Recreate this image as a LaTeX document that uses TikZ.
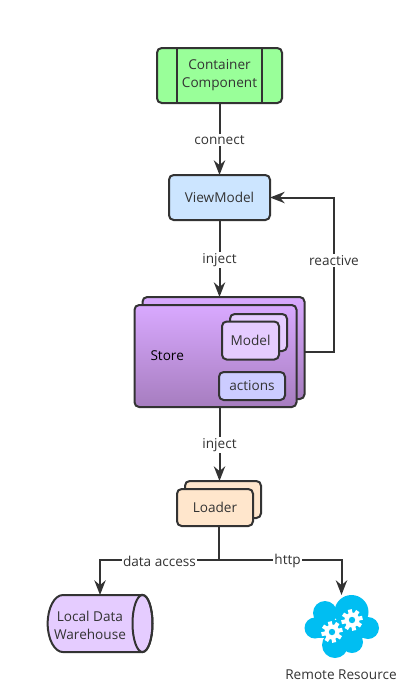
\documentclass[tikz,border=0pt]{standalone}
\usepackage{fontspec}
\setmainfont{Open Sans}
\usepackage{tikz}
\usetikzlibrary{arrows.meta,calc,positioning}
\definecolor{lineclr}{HTML}{333333}
\definecolor{containerclr}{HTML}{99FF99}
\definecolor{viewclr}{HTML}{CCE5FF}
\definecolor{lilacclr}{HTML}{E5CCFF}
\definecolor{actionclr}{HTML}{CCCCFF}
\definecolor{loaderclr}{HTML}{FFE6CC}
\definecolor{storetop}{HTML}{D9A9FF}
\definecolor{storebot}{HTML}{A67DBF}
\definecolor{cloudclr}{HTML}{00BEF2}
\tikzset{
  box/.style={draw=lineclr,line width=1.5pt,rounded corners=3.5pt,inner sep=0pt,outer sep=0pt,
    align=center,text=lineclr,font=\fontsize{10.2}{13.5}\selectfont},
  storebox/.style={box,top color=storetop,bottom color=storebot,
    minimum width=121.5pt,minimum height=76.5pt},
  conn/.style={draw=lineclr,line width=1.5pt,-{Stealth[length=11pt,width=8.5pt]}},
  wire/.style={draw=lineclr,line width=1.5pt},
  tag/.style={fill=white,inner sep=1pt,yshift=-1pt,text=lineclr,font=\fontsize{10.2}{13.5}\selectfont},
  caption/.style={tag,fill=none,inner sep=0pt,yshift=0pt,align=center},
}
\newcommand{\cog}[2]{%
  \fill[white] (#1,#2) circle[radius=5.6pt];
  \foreach \ang in {0,45,...,315}
    \fill[white,rotate around={\ang+12:(#1,#2)}] ($(#1,#2)+(-1.5pt,0)$) rectangle ++(3pt,8pt);
  \fill[cloudclr] (#1,#2) circle[radius=2.4pt];
}
\begin{document}
\begin{tikzpicture}[x=0.75pt,y=-0.75pt]
  \useasboundingbox (0,0) rectangle (411,690);

  % top of the chain
  \node[box,fill=containerclr,minimum width=93.75pt,minimum height=41.25pt] (container) at (219.5,75.5)
    {Container\\Component};
  \draw[wire] ([xshift=15pt]container.north west) -- ([xshift=15pt]container.south west);
  \draw[wire] ([xshift=-15pt]container.north east) -- ([xshift=-15pt]container.south east);
  \node[box,fill=viewclr,minimum width=75.75pt,minimum height=33.75pt,below=54pt of container] (viewmodel) {ViewModel};

  % store with its two inner parts
  \node[storebox,below=57.75pt of viewmodel,xshift=3pt] (storeback) {};
  \node[storebox,xshift=-6pt,yshift=-6pt,text=black,text width=97.5pt,align=left] (store) at (storeback) {Store};
  \node[box,fill=lilacclr,minimum width=42.75pt,minimum height=27.75pt] (modelback) at (258.5,332.5) {};
  \node[box,fill=lilacclr,minimum width=42.75pt,minimum height=28.5pt,xshift=-6pt,yshift=-6pt] (model) at (modelback) {Model};
  \node[box,fill=actionclr,minimum width=49.5pt,minimum height=21pt] (actions) at (252,386) {actions};

  % loader
  \node[box,fill=loaderclr,minimum width=57pt,minimum height=27.75pt] (loaderback) at (223,499.5) {};
  \node[box,fill=loaderclr,minimum width=57pt,minimum height=27.75pt,xshift=-6pt,yshift=-6pt] (loader) at (loaderback) {Loader};

  % local storage, a lying cylinder
  \draw[wire,fill=lilacclr] (142.5,595) -- (63,595) arc[start angle=90,end angle=270,x radius=11.5pt,y radius=21.4pt]
    -- (142.5,652) arc[start angle=270,end angle=450,x radius=7.5pt,y radius=21.4pt] -- cycle;
  \draw[wire] (142.5,623.5) ellipse[x radius=7.5pt,y radius=21.4pt];
  \node[caption] (local) at (90,624) {Local Data\\Warehouse};
  \coordinate (localtop) at (100,595);

  % remote side, cloud with two cogs
  \foreach \cx/\cy/\cr in {315/628/10.5,325/613/12,351.5/612/17,368/628/11,335/645/13,352/642/11}
    \fill[cloudclr] (\cx,\cy) circle[radius=\cr*0.75pt];
  \fill[cloudclr] (316,620) rectangle (368,638);
  \cog{332}{632}
  \cog{352}{620}
  \coordinate (remote) at (341.5,595);
  \node[caption] (remotetext) at (341,673) {Remote Resource};

  \draw[conn] (container) -- node[tag]{connect} (viewmodel);
  \draw[conn] (viewmodel) -- node[tag]{inject} (viewmodel|-storeback.north);
  \draw[conn] (store.south-|viewmodel) -- node[tag]{inject} (viewmodel|-loaderback.north);
  \draw[conn] ([yshift=-3.2pt]storeback.east) -- ++(29.5,0) |- node[tag,pos=.3]{reactive} (viewmodel.east);

  \coordinate (split) at (219,560);
  \draw[wire] (split|-loader.south) -- (split);
  \draw[conn] (split) -| node[tag,pos=.25]{data access} (localtop);
  \draw[conn] (split) -| node[tag,pos=.28]{http} (remote);
\end{tikzpicture}
\end{document}
